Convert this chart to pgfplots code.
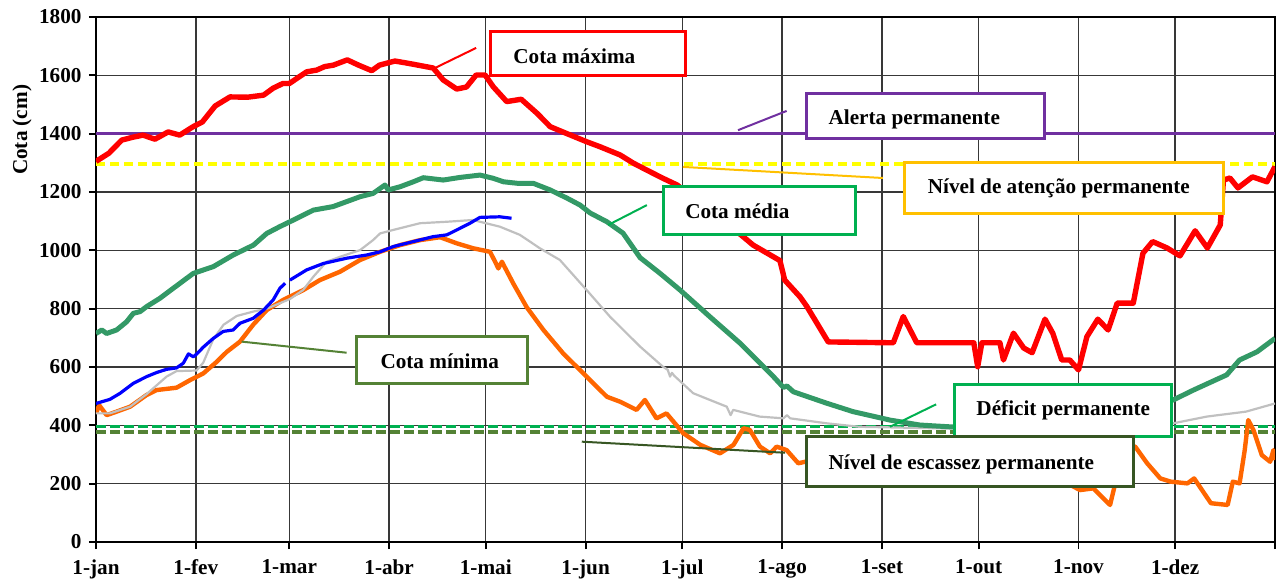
\documentclass[border=0pt]{standalone}
\usepackage{fontspec}
\setmainfont{Liberation Serif}
\usepackage{pgfplots}
\pgfplotsset{compat=1.18}
\definecolor{cmax}{HTML}{FF0000}
\definecolor{cmed}{HTML}{339966}
\definecolor{cblue}{HTML}{0000FF}
\definecolor{cgray}{HTML}{C0C0C0}
\definecolor{cmin}{HTML}{FF6600}
\definecolor{cpurp}{HTML}{7030A0}
\definecolor{cyel}{HTML}{FFFF00}
\definecolor{cdef}{HTML}{00B050}
\definecolor{cesc}{HTML}{548235}
\definecolor{cescbox}{HTML}{375623}
\definecolor{catt}{HTML}{FFC000}
\begin{document}
\fontsize{10.6}{12.7}\selectfont\bfseries
\begin{tikzpicture}
\tikzset{every node/.append style={font=\fontsize{10.6}{12.7}\selectfont\bfseries}}
\path[use as bounding box] (-48pt,-21.5pt) rectangle (591.5pt,271pt);
\begin{axis}[
 scale only axis, width=589.5pt, height=262.5pt,
 xmin=0, xmax=366, ymin=0, ymax=1800,
 xtick={0,31,60,91,121,152,182,213,244,274,305,335,366},
 xticklabels={1-jan,1-fev,1-mar,1-abr,1-mai,1-jun,1-jul,1-ago,1-set,1-out,1-nov,1-dez,{}},
 ytick={0,200,...,1800},
 grid=major, grid style={line width=0.7pt, black!78},
 tick align=outside, tick pos=left, major tick length=3.5pt,
 tick style={black, line width=0.9pt},
 axis line style={line width=1.3pt},
 xticklabel style={yshift=-1.5pt},
 /pgf/number format/assume math mode=true,
 /pgf/number format/1000 sep={},
 clip mode=individual,
 unbounded coords=jump,
]
% horizontal reference lines
\addplot[cpurp, line width=1.6pt] coordinates {(0,1400) (366,1400)};
\addplot[cyel, line width=1.8pt, dash pattern=on 4.5pt off 2.5pt] coordinates {(0,1295) (366,1295)};
\addplot[cdef, line width=1.8pt, dash pattern=on 5pt off 2pt] coordinates {(0,396) (366,396)};
\addplot[cesc, line width=1.8pt, dash pattern=on 5pt off 2pt] coordinates {(0,377) (366,377)};
% Cota minima
\addplot[cmin, line width=2.2pt, line join=round] coordinates {
(0,441) (1,469) (3.3,435) (6.4,447) (10.6,464) (15.7,504) (18.8,521) (25,529) (29.2,555) (33.3,578)
(37.5,618) (40.6,652) (44.7,687) (48.8,745) (53,795) (58.1,830) (64.4,864) (69.5,898) (75.8,927)
(82,967) (88.2,995) (94.4,1018) (100.6,1035) (106.8,1045) (112,1024) (117.1,1007) (122.3,995)
(123.9,961) (124.9,938) (126,961) (129.6,885) (133.7,805) (138.9,727) (145,647) (152.3,567)
(158.6,498) (162.7,481) (167.8,453) (170.4,487) (174,424) (177.1,441) (182.3,373) (187.6,333)
(193.7,304) (197.9,333) (201,390) (203,384) (206.1,327) (209.3,304) (211.3,327) (214.4,315)
(218,270) (220.1,275) (230,290) (240,310) (250,300) (260,260) (270,280) (280,250) (290,240)
(300,210) (305.5,178) (309.6,184) (312.7,150) (314.8,127) (316.9,224) (319,327) (322.6,327)
(326.3,270) (330.4,218) (333.6,207) (338.8,201) (340.9,218) (346.1,133) (351.3,127) (352.9,207)
(355,201) (356.6,315) (357.7,418) (359.3,384) (361.9,298) (364.5,275) (365.5,315) (366,281)};
% gray year
\addplot[cgray, line width=1.1pt, line join=round] coordinates {
(0,441) (4.3,441) (10.6,464) (15.7,507) (21.9,567) (25,586) (31.2,588) (33.3,615) (36.4,695)
(39.6,745) (43.7,775) (48.8,790) (53,800) (60.2,833) (64.3,864) (67.5,910) (71.6,961) (75.8,978)
(82,1001) (86,1035) (88.2,1058) (92.3,1070) (100.6,1093) (108.9,1098) (117,1104) (125.4,1081)
(131.6,1053) (137.8,1007) (144,967) (152.3,864) (159.6,772) (168.9,670) (176,601) (177.5,590)
(178.2,567) (178.8,580) (179.5,570) (185.4,510) (195.8,464) (197,435) (197.8,453) (206,430)
(213.4,424) (214.5,435) (215.5,424) (226.8,407) (237,395) (246.5,393) (260,390) (280,386)
(300,386) (320,395) (334.4,407) (344.8,430) (357,447) (366,475)};
% blue current year
\addplot[cblue, line width=1.6pt, line join=round] coordinates {
(0,475) (4.3,489) (7.5,510) (11.6,544) (15.7,567) (18.8,581) (21.9,592) (25,597) (27.1,613)
(28.7,645) (30.2,635) (31.3,645) (33.3,668) (36.4,698) (39.5,722) (42.6,727) (44.7,750)
(48.8,767) (52,795) (55,830) (57.1,870) (58.7,887) (59.3,nan) (60.2,898) (65.4,933) (70.6,955)
(77.8,973) (84,984) (88.2,995) (92.3,1013) (98.5,1030) (104.7,1047) (108.9,1053) (112,1070)
(116.1,1093) (119.2,1113) (125.4,1115) (129,1110)};
% Cota media
\addplot[cmed, line width=2.5pt, line join=round] coordinates {
(0,715) (1.8,727) (3.3,715) (6.4,727) (9.5,755) (11.6,784) (13.7,790) (15.7,807) (19.9,836)
(24,870) (30.2,921) (36.4,944) (42.6,984) (48.9,1018) (53,1058) (57,1081) (61.3,1104)
(67.5,1138) (73.6,1150) (77.8,1167) (82,1184) (86,1195) (89.7,1224) (90.7,1207) (94.4,1218)
(98.5,1235) (101.6,1249) (107.8,1241) (113,1250) (119.2,1258) (123.3,1247) (126.5,1235)
(130.7,1230) (135.7,1230) (141,1207) (146.2,1179) (150.3,1155) (153.4,1128) (158.6,1098)
(163.6,1059) (168.9,975) (175,922) (181.3,864) (190.6,772) (200,681) (210.3,567) (213.4,530)
(214.5,535) (216.5,515) (226.8,476) (235,447) (246.5,418) (255.8,401) (265,395) (280,392)
(295,398) (310,418) (322,450) (334.4,487) (340.7,521) (351,573) (355,624) (360.4,652) (366,698)};
% Cota maxima
\addplot[cmax, line width=2.7pt, line join=round] coordinates {
(0,1305) (4,1333) (8,1378) (11.5,1388) (14.6,1395) (18.3,1381) (22.4,1406) (26,1395) (30,1423)
(33,1440) (37,1495) (41.6,1526) (47,1525) (52,1532) (55,1556) (58,1572) (60,1572) (65.4,1612)
(68.5,1618) (71,1630) (73.7,1635) (78,1653) (81.5,1635) (85.6,1616) (88,1635) (92.8,1649)
(96,1643) (98.5,1638) (104.7,1625) (107.8,1584) (112,1553) (115,1560) (118,1601) (120.8,1601)
(123.3,1561) (127.5,1510) (132,1518) (136.9,1470) (141,1424) (146,1401) (152.4,1372)
(156.5,1355) (162.7,1327) (166.8,1299) (171,1275) (176,1247) (180.4,1224) (190,1140)
(200,1055) (204,1018) (212.3,965) (213.8,898) (218.6,840) (220.7,807) (227.3,686) (247.5,683)
(250.6,773) (254.8,683) (272.5,683) (273.7,601) (275,683) (280.6,683) (281.7,624) (284.8,716)
(288,665) (290.6,649) (294.6,764) (297,716) (299.8,624) (302.3,624) (305,590) (307.6,704)
(311,764) (314.2,727) (317,819) (322,819) (325,990) (328,1030) (332.5,1008) (336.5,981)
(341.2,1067) (345,1008) (349,1087) (350,1241) (352,1248) (354.5,1214) (359,1252) (363.5,1235)
(366,1287)};
% leader lines
\draw[cmax, line width=1pt] (axis cs:105.2,1625) -- (axis cs:118,1694);
\draw[cpurp, line width=1pt] (axis cs:199.3,1412) -- (axis cs:214.4,1478);
\draw[catt, line width=1pt] (axis cs:182.2,1286) -- (axis cs:244.3,1248);
\draw[cdef, line width=1pt] (axis cs:159,1087) -- (axis cs:171,1155);
\draw[cesc, line width=1pt] (axis cs:45.2,687) -- (axis cs:77.8,649);
\draw[cdef, line width=1pt] (axis cs:246.5,395) -- (axis cs:260.8,472);
\draw[cescbox, line width=1pt] (axis cs:150.8,344) -- (axis cs:213.9,306);
% label boxes
\draw[cmax, line width=1.5pt, fill=white] (axis cs:122.6,1752) rectangle (axis cs:182.85,1598);
\node[anchor=base west, inner sep=0pt] at (axis cs:129.45,1642) {Cota máxima};
\draw[cpurp, line width=1.5pt, fill=white] (axis cs:220.6,1538) rectangle (axis cs:294.3,1385);
\node[anchor=base west, inner sep=0pt] at (axis cs:227.3,1433) {Alerta permanente};
\draw[catt, line width=1.5pt, fill=white] (axis cs:251.1,1302) rectangle (axis cs:350,1127);
\node[anchor=base west, inner sep=0pt] at (axis cs:258.1,1195) {Nível de atenção permanente};
\draw[cdef, line width=1.5pt, fill=white] (axis cs:176.1,1218) rectangle (axis cs:235.9,1056);
\node[anchor=base west, inner sep=0pt] at (axis cs:182.8,1110) {Cota média};
\draw[cesc, line width=1.5pt, fill=white] (axis cs:80.9,704) rectangle (axis cs:133.9,542);
\node[anchor=base west, inner sep=0pt] at (axis cs:88.2,595) {Cota mínima};
\draw[cdef, line width=1.5pt, fill=white] (axis cs:266.4,541) rectangle (axis cs:333.9,361);
\node[anchor=base west, inner sep=0pt] at (axis cs:273.2,433) {Déficit permanente};
\draw[cescbox, line width=1.5pt, fill=white] (axis cs:220.6,361) rectangle (axis cs:322,192);
\node[anchor=base west, inner sep=0pt] at (axis cs:227.3,247) {Nível de escassez permanente};
% y label
\node[rotate=90] at (axis cs:-23,1413) {Cota (cm)};
\end{axis}
\end{tikzpicture}
\end{document}
